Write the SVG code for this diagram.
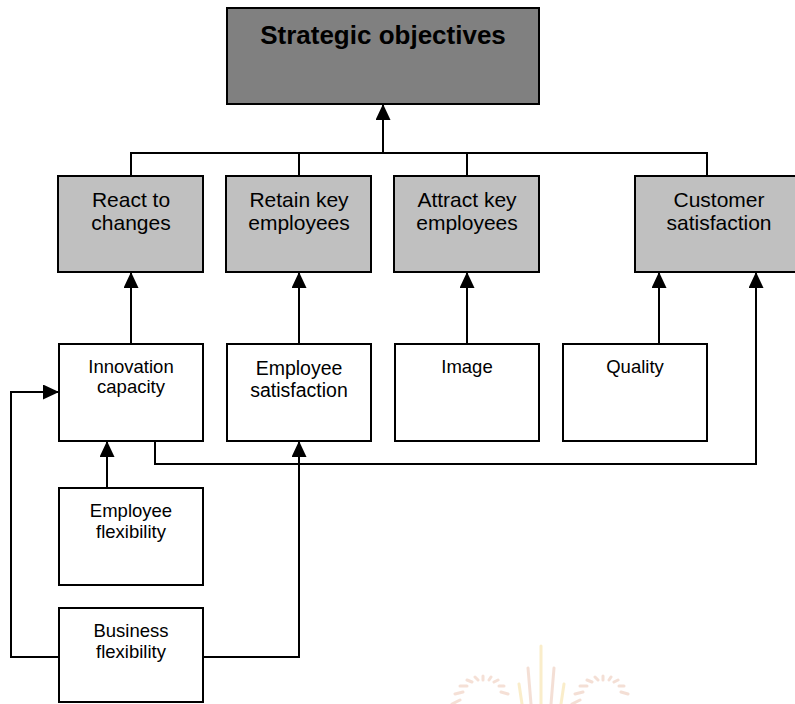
<svg xmlns="http://www.w3.org/2000/svg" width="795" height="704" viewBox="0 0 795 704">
  <style>
    .box { stroke: #000; stroke-width: 2; }
    .top { fill: #808080; }
    .goal { fill: #c0c0c0; }
    .driver { fill: #fff; }
    .lbl { font-family: "Liberation Sans", Arial, sans-serif; fill: #000; text-anchor: middle; }
    .title { font-size: 26px; font-weight: bold; }
    .g { font-size: 21px; }
    .d { font-size: 18.5px; }
    .wire { fill: none; stroke: #000; stroke-width: 2; }
    .mark { fill: none; stroke-linecap: round; }
  </style>
  <defs>
    <marker id="arrow" markerUnits="userSpaceOnUse" markerWidth="16" markerHeight="15" refX="16" refY="7.5" orient="auto">
      <path d="M0,0 L16,7.5 L0,15 Z" fill="#000"/>
    </marker>
  </defs>
  <rect width="795" height="704" fill="#fff"/>

  <!-- faint emblem in the lower right -->
  <g id="emblem" opacity="0.55">
    <g class="mark" stroke="#ecc6b4" stroke-width="3">
      <path d="M452,704 L460,700 M455,694 L463,692 M460,686 L467,686 M467,680 L472,682 M475,677 L478,680 M483,676 L483,680 M491,677 L489,680 M498,680 L494,682 M504,686 L499,686 M508,694 L501,692"/>
      <path d="M572,704 L580,700 M575,694 L583,692 M580,686 L587,686 M587,680 L592,682 M595,677 L598,680 M603,676 L603,680 M611,677 L609,680 M618,680 L614,682 M624,686 L619,686 M628,694 L621,692"/>
      <path d="M531,704 L528,668 M551,704 L554,668"/>
    </g>
    <g class="mark" stroke="#f6e0a0" stroke-width="3">
      <path d="M541,704 L541,646 M522,704 L519,684 M561,704 L564,684"/>
    </g>
  </g>

  <!-- connectors -->
  <g id="connectors">
    <path class="wire" d="M131,176 V153 H707 V176 M299,153 V176 M467,153 V176"/>
    <path class="wire" d="M383,153 V104" marker-end="url(#arrow)"/>
    <path class="wire" d="M131,344 V272" marker-end="url(#arrow)"/>
    <path class="wire" d="M299,344 V272" marker-end="url(#arrow)"/>
    <path class="wire" d="M467,344 V272" marker-end="url(#arrow)"/>
    <path class="wire" d="M659,344 V272" marker-end="url(#arrow)"/>
    <path class="wire" d="M155,441 V464 H756 V272" marker-end="url(#arrow)"/>
    <path class="wire" d="M107,488 V441" marker-end="url(#arrow)"/>
    <path class="wire" d="M203,657 H299 V441" marker-end="url(#arrow)"/>
    <path class="wire" d="M59,657 H11 V392 H59" marker-end="url(#arrow)"/>
  </g>

  <!-- top objective -->
  <g id="strategic-objectives">
    <rect class="box top" x="227" y="8" width="312" height="96"/>
    <text class="lbl title" x="383" y="44">Strategic objectives</text>
  </g>

  <!-- goals -->
  <g id="react-to-changes">
    <rect class="box goal" x="58" y="176" width="145" height="96"/>
    <text class="lbl g" x="131" y="207">React to</text>
    <text class="lbl g" x="131" y="230">changes</text>
  </g>
  <g id="retain-key-employees">
    <rect class="box goal" x="226" y="176" width="145" height="96"/>
    <text class="lbl g" x="299" y="207">Retain key</text>
    <text class="lbl g" x="299" y="230">employees</text>
  </g>
  <g id="attract-key-employees">
    <rect class="box goal" x="394" y="176" width="145" height="96"/>
    <text class="lbl g" x="467" y="207">Attract key</text>
    <text class="lbl g" x="467" y="230">employees</text>
  </g>
  <g id="customer-satisfaction">
    <rect class="box goal" x="635" y="176" width="170" height="96"/>
    <text class="lbl g" x="719" y="207">Customer</text>
    <text class="lbl g" x="719" y="230">satisfaction</text>
  </g>

  <!-- drivers -->
  <g id="innovation-capacity">
    <rect class="box driver" x="59" y="344" width="144" height="97"/>
    <text class="lbl d" x="131" y="373">Innovation</text>
    <text class="lbl d" x="131" y="393">capacity</text>
  </g>
  <g id="employee-satisfaction">
    <rect class="box driver" x="227" y="344" width="144" height="97"/>
    <text class="lbl d" x="299" y="375" style="font-size:19.5px">Employee</text>
    <text class="lbl d" x="299" y="397" style="font-size:19.5px">satisfaction</text>
  </g>
  <g id="image">
    <rect class="box driver" x="395" y="344" width="144" height="97"/>
    <text class="lbl d" x="467" y="373">Image</text>
  </g>
  <g id="quality">
    <rect class="box driver" x="563" y="344" width="144" height="97"/>
    <text class="lbl d" x="635" y="373">Quality</text>
  </g>
  <g id="employee-flexibility">
    <rect class="box driver" x="59" y="488" width="144" height="97"/>
    <text class="lbl d" x="131" y="517">Employee</text>
    <text class="lbl d" x="131" y="538">flexibility</text>
  </g>
  <g id="business-flexibility">
    <rect class="box driver" x="59" y="608" width="144" height="94"/>
    <text class="lbl d" x="131" y="637">Business</text>
    <text class="lbl d" x="131" y="658">flexibility</text>
  </g>
</svg>
